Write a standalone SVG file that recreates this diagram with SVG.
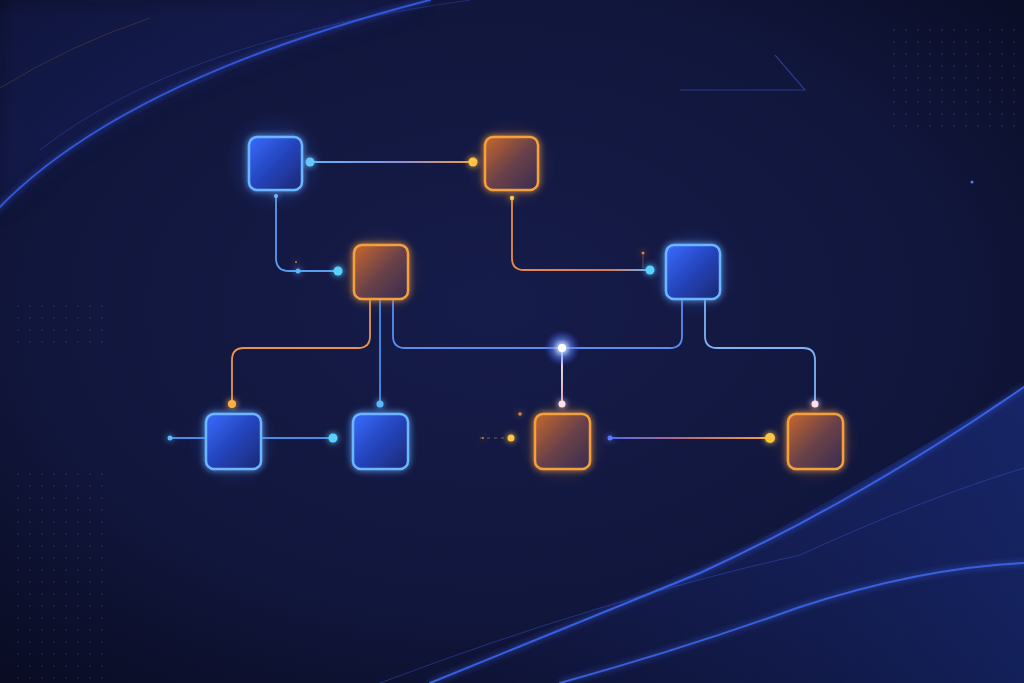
<svg xmlns="http://www.w3.org/2000/svg" width="1024" height="683" viewBox="0 0 1024 683">
<defs>
<style>
.nb{fill:url(#gBlue);stroke:#6cb6ff;stroke-width:2.5}
.no{fill:url(#gOrange);stroke:#f4a03e;stroke-width:2.5}
.ln{fill:none;stroke-width:1.8;stroke-linecap:round}
.wave{fill:none;stroke-linecap:round}
</style>
<radialGradient id="bg" cx="0.48" cy="0.45" r="0.75">
<stop offset="0" stop-color="#161c4a"/>
<stop offset="0.6" stop-color="#11163c"/>
<stop offset="1" stop-color="#080b20"/>
</radialGradient>
<linearGradient id="gBlue" x1="0" y1="0" x2="1" y2="1">
<stop offset="0" stop-color="#3a6cff"/>
<stop offset="0.5" stop-color="#2444bc"/>
<stop offset="1" stop-color="#1c2870"/>
</linearGradient>
<linearGradient id="gOrange" x1="0" y1="0" x2="1" y2="1">
<stop offset="0" stop-color="#c8672c"/>
<stop offset="0.5" stop-color="#6b4248"/>
<stop offset="1" stop-color="#382b52"/>
</linearGradient>
<linearGradient id="lAB" x1="310" y1="0" x2="473" y2="0" gradientUnits="userSpaceOnUse">
<stop offset="0" stop-color="#5ab4ff"/>
<stop offset="0.55" stop-color="#8a8fd8"/>
<stop offset="1" stop-color="#f29a45"/>
</linearGradient>
<linearGradient id="lBD" x1="512" y1="0" x2="650" y2="0" gradientUnits="userSpaceOnUse">
<stop offset="0" stop-color="#e88a4a"/>
<stop offset="0.7" stop-color="#d87a5a"/>
<stop offset="1" stop-color="#6ab0f0"/>
</linearGradient>
<linearGradient id="lGH" x1="610" y1="0" x2="770" y2="0" gradientUnits="userSpaceOnUse">
<stop offset="0" stop-color="#4a6ee8"/>
<stop offset="0.45" stop-color="#b06a80"/>
<stop offset="1" stop-color="#f6a040"/>
</linearGradient>
<linearGradient id="lV" x1="0" y1="348" x2="0" y2="404" gradientUnits="userSpaceOnUse">
<stop offset="0" stop-color="#ffffff"/>
<stop offset="1" stop-color="#f0b8c8"/>
</linearGradient>
<linearGradient id="waveFill" x1="0" y1="0" x2="1" y2="0">
<stop offset="0" stop-color="#1a2a80" stop-opacity="0"/>
<stop offset="1" stop-color="#2340b0" stop-opacity="0.4"/>
</linearGradient>
<radialGradient id="spot" cx="0.5" cy="0.5" r="0.5">
<stop offset="0" stop-color="#ffffff"/>
<stop offset="0.25" stop-color="#8fb8ff" stop-opacity="0.8"/>
<stop offset="1" stop-color="#3050ff" stop-opacity="0"/>
</radialGradient>
<radialGradient id="haloB" cx="0.5" cy="0.5" r="0.5">
<stop offset="0" stop-color="#3a70ff" stop-opacity="0.3"/>
<stop offset="1" stop-color="#3a70ff" stop-opacity="0"/>
</radialGradient>
<radialGradient id="haloO" cx="0.5" cy="0.5" r="0.5">
<stop offset="0" stop-color="#ff9a3a" stop-opacity="0.2"/>
<stop offset="1" stop-color="#ff9a3a" stop-opacity="0"/>
</radialGradient>
<pattern id="dots" width="12" height="12" patternUnits="userSpaceOnUse">
<circle cx="6" cy="6" r="0.9" fill="#6a7ad0" fill-opacity="0.5"/>
</pattern>
<filter id="glow" x="-50%" y="-50%" width="200%" height="200%">
<feGaussianBlur stdDeviation="3" result="b"/>
<feMerge><feMergeNode in="b"/><feMergeNode in="SourceGraphic"/></feMerge>
</filter>
<filter id="blurBig" x="-50%" y="-50%" width="200%" height="200%">
<feGaussianBlur stdDeviation="12"/>
</filter>
</defs>

<!-- background -->
<rect width="1024" height="683" fill="url(#bg)"/>
<g id="background">
<path d="M-5,212 Q120,80 430,0 L0,0 Z" fill="#1a2770" opacity="0.3" filter="url(#blurBig)"/>
<path class="wave" d="M-5,212 Q120,80 430,0" stroke="#3a66ff" stroke-width="2" filter="url(#glow)" opacity="0.8"/>
<path class="wave" d="M40,150 Q180,40 470,0" stroke="#3558d8" stroke-width="1" opacity="0.35"/>
<path class="wave" d="M0,88 Q70,45 150,18" stroke="#b0703a" stroke-width="0.8" opacity="0.3"/>
<path d="M430,683 Q600,620 760,540 Q900,460 1024,387 L1024,683 Z" fill="url(#waveFill)"/>
<path class="wave" d="M430,683 Q560,630 700,573 Q860,500 1024,387" stroke="#3f6cff" stroke-width="2" filter="url(#glow)" opacity="0.85"/>
<path class="wave" d="M380,683 Q600,600 800,555 Q920,500 1024,468" stroke="#3556d0" stroke-width="1" opacity="0.45"/>
<path class="wave" d="M560,683 Q680,650 800,607 Q920,568 1024,563" stroke="#4270ff" stroke-width="2" filter="url(#glow)" opacity="0.8"/>
<path d="M680,90 H805 L775,55" fill="none" stroke="#3d55c8" stroke-width="1.2" opacity="0.55"/>
<rect x="888" y="20" width="136" height="110" fill="url(#dots)" opacity="0.45"/>
<rect x="14" y="305" width="96" height="45" fill="url(#dots)" opacity="0.35"/>
<rect x="14" y="470" width="90" height="210" fill="url(#dots)" opacity="0.35"/>
<circle cx="972" cy="182" r="1.5" fill="#5a7aff"/>
</g>

<!-- halos -->
<g id="halos">
<circle cx="275" cy="163" r="50" fill="url(#haloB)"/>
<circle cx="511" cy="164" r="45" fill="url(#haloO)"/>
<circle cx="380" cy="272" r="45" fill="url(#haloO)"/>
<circle cx="693" cy="272" r="45" fill="url(#haloB)"/>
<circle cx="233" cy="442" r="45" fill="url(#haloB)"/>
<circle cx="380" cy="442" r="40" fill="url(#haloB)"/>
<circle cx="563" cy="442" r="45" fill="url(#haloO)"/>
<circle cx="815" cy="442" r="45" fill="url(#haloO)"/>
</g>

<!-- connectors -->
<g id="connectors">
<path class="ln" d="M310,162 H473" stroke="url(#lAB)"/>
<path class="ln" d="M276,196 V258 Q276,271 289,271 H338" stroke="#5a9cf0"/>
<path class="ln" d="M512,198 V258 Q512,270 524,270 H650" stroke="url(#lBD)"/>
<path d="M643,255 V268" stroke="#c07050" stroke-width="0.8" opacity="0.6"/>
<path class="ln" d="M370,300 V336 Q370,348 358,348 H244 Q232,348 232,360 V404" stroke="#e8954a"/>
<path class="ln" d="M380,300 V404" stroke="#4a90ec"/>
<path d="M382,414 V470" stroke="#4a80e0" stroke-width="1" opacity="0.45"/>
<path class="ln" d="M393,300 V336 Q393,348 405,348 H670 Q682,348 682,336 V300" stroke="#5a8cf0"/>
<path class="ln" d="M705,300 V336 Q705,348 717,348 H803 Q815,348 815,360 V404" stroke="#7eb4f4"/>
<path class="ln" d="M562,348 V404" stroke="url(#lV)"/>
<path class="ln" d="M170,438 H206" stroke="#4a8ae8"/>
<path class="ln" d="M261,438 H333" stroke="#4a8ae8"/>
<path class="ln" d="M610,438 H770" stroke="url(#lGH)"/>
<path d="M480,438 H505" stroke="#c08050" stroke-width="1" stroke-dasharray="3 4" opacity="0.6"/>

<g id="connector-dots" filter="url(#glow)">
<circle cx="310" cy="162" r="4.5" fill="#66c8ff"/>
<circle cx="473" cy="162" r="4.5" fill="#ffc444"/>
<circle cx="276" cy="196" r="2" fill="#7ab8ff"/>
<circle cx="298" cy="271" r="2.5" fill="#5ab4ff"/>
<circle cx="338" cy="271" r="4.5" fill="#5ad0ff"/>
<circle cx="512" cy="198" r="2.2" fill="#ffc450"/>
<circle cx="650" cy="270" r="4.5" fill="#5ad0ff"/>
<circle cx="643" cy="253" r="1.5" fill="#e08040"/>
<circle cx="232" cy="404" r="4" fill="#ffb040"/>
<circle cx="380" cy="404" r="3.5" fill="#5ab8ff"/>
<circle cx="562" cy="404" r="3.5" fill="#ffe0ea"/>
<circle cx="815" cy="404" r="3.5" fill="#ffe0ea"/>
<circle cx="170" cy="438" r="2.5" fill="#5ab8ff"/>
<circle cx="333" cy="438" r="4.5" fill="#5ad0ff"/>
<circle cx="610" cy="438" r="2.5" fill="#5a7aff"/>
<circle cx="770" cy="438" r="5" fill="#ffc440"/>
<circle cx="511" cy="438" r="3.5" fill="#ffc440"/>
<circle cx="520" cy="414" r="1.8" fill="#e08040"/>
<circle cx="483" cy="438" r="1" fill="#d08040"/>
<circle cx="296" cy="262" r="1" fill="#c08050"/>
</g>
<circle cx="562" cy="348" r="18" fill="url(#spot)"/>
<circle cx="562" cy="348" r="4" fill="#ffffff" filter="url(#glow)"/>
</g>

<!-- nodes -->
<g id="node-a" filter="url(#glow)"><rect class="nb" x="249" y="137" width="53" height="53" rx="8"/></g>
<g id="node-b" filter="url(#glow)"><rect class="no" x="485" y="137" width="53" height="53" rx="8"/></g>
<g id="node-c" filter="url(#glow)"><rect class="no" x="354" y="245" width="54" height="54" rx="8"/></g>
<g id="node-d" filter="url(#glow)"><rect class="nb" x="666" y="245" width="54" height="54" rx="8"/></g>
<g id="node-e" filter="url(#glow)"><rect class="nb" x="206" y="414" width="55" height="55" rx="8"/></g>
<g id="node-f" filter="url(#glow)"><rect class="nb" x="353" y="414" width="55" height="55" rx="8"/></g>
<g id="node-g" filter="url(#glow)"><rect class="no" x="535" y="414" width="55" height="55" rx="8"/></g>
<g id="node-h" filter="url(#glow)"><rect class="no" x="788" y="414" width="55" height="55" rx="8"/></g>
</svg>
